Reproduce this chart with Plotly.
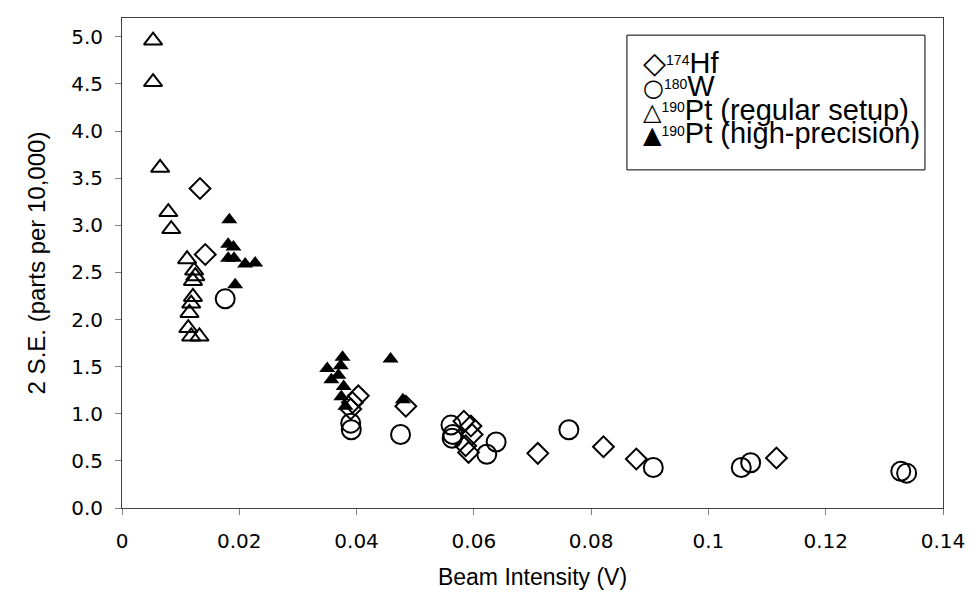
import plotly.graph_objects as go

# Hf-174 (open diamonds)
hf_x = [0.0133, 0.0142, 0.0403, 0.0393, 0.0390, 0.0484, 0.0583, 0.0595, 0.0597, 0.0586, 0.0591,
        0.0709, 0.0821, 0.0877, 0.1116]
hf_y = [3.39, 2.69, 1.19, 1.12, 1.05, 1.08, 0.92, 0.87, 0.78, 0.66, 0.59,
        0.58, 0.65, 0.52, 0.53]

# W-180 (open circles)
w_x = [0.0176, 0.0390, 0.0391, 0.0475, 0.0561, 0.0564, 0.0563, 0.0638, 0.0622, 0.0762,
       0.0906, 0.1056, 0.1072, 0.1328, 0.1338]
w_y = [2.22, 0.90, 0.83, 0.78, 0.88, 0.78, 0.74, 0.70, 0.57, 0.83,
       0.43, 0.43, 0.48, 0.39, 0.37]

# Pt-190 regular setup (open triangles)
ptr_x = [0.0053, 0.0053, 0.0065, 0.0079, 0.0084, 0.0111, 0.0123, 0.0125, 0.0121, 0.0121,
         0.0118, 0.0115, 0.0113, 0.0118, 0.0132]
ptr_y = [4.96, 4.52, 3.61, 3.14, 2.96, 2.64, 2.52, 2.46, 2.41, 2.24,
         2.17, 2.07, 1.91, 1.82, 1.82]

# Pt-190 high-precision (filled triangles)
pth_x = [0.0183, 0.0181, 0.0190, 0.0181, 0.0191, 0.0210, 0.0227, 0.0193,
         0.0350, 0.0357, 0.0376, 0.0373, 0.0369, 0.0378, 0.0374, 0.0381, 0.0458, 0.0479]
pth_y = [3.06, 2.80, 2.77, 2.65, 2.65, 2.59, 2.60, 2.37,
         1.48, 1.36, 1.60, 1.51, 1.41, 1.29, 1.18, 1.08, 1.58, 1.15]

x_ticks = [0, 0.02, 0.04, 0.06, 0.08, 0.1, 0.12, 0.14]
x_ticklabels = ["0", "0.02", "0.04", "0.06", "0.08", "0.1", "0.12", "0.14"]
y_ticks = [0, 0.5, 1, 1.5, 2, 2.5, 3, 3.5, 4, 4.5, 5]
y_ticklabels = ["0.0", "0.5", "1.0", "1.5", "2.0", "2.5", "3.0", "3.5", "4.0", "4.5", "5.0"]

legend_symbols = ["◇", "○", "△", "▲"]
legend_sup = ["174", "180", "190", "190"]
legend_names = ["Hf", "W", "Pt (regular setup)", "Pt (high-precision)"]

fig = go.Figure()
fig.add_trace(go.Scatter(x=hf_x, y=hf_y, mode="markers", name="174Hf", showlegend=False,
                         marker=dict(symbol="diamond-open", size=16, color="black",
                                     line=dict(width=2, color="black"))))
fig.add_trace(go.Scatter(x=w_x, y=w_y, mode="markers", name="180W", showlegend=False,
                         marker=dict(symbol="circle-open", size=19, color="black",
                                     line=dict(width=2, color="black"))))
fig.add_trace(go.Scatter(x=ptr_x, y=ptr_y, mode="markers", name="190Pt (regular setup)", showlegend=False,
                         marker=dict(symbol="triangle-up-open", size=16, color="black",
                                     line=dict(width=2, color="black"))))
fig.add_trace(go.Scatter(x=pth_x, y=pth_y, mode="markers", name="190Pt (high-precision)", showlegend=False,
                         marker=dict(symbol="triangle-up", size=14, color="black",
                                     line=dict(width=0))))

# hand-built legend box (tight rows, as in the reference): one text block, 23 px line pitch
fig.add_shape(type="rect", xref="paper", yref="paper", x0=0.615, x1=0.978, y0=0.69, y1=0.965,
              line=dict(color="black", width=1), fillcolor="white", layer="above")
sym_size = [30, 24, 24, 24]
lines = []
for i in range(4):
    lines.append("<span style='font-family:DejaVu Sans;font-size:%dpx'>%s</span>" % (sym_size[i], legend_symbols[i])
                 + "<sup><span style='font-size:14px'>" + legend_sup[i] + "</span></sup>"
                 + "<span style='font-size:29px'>" + legend_names[i] + "</span>")
fig.add_annotation(xref="paper", yref="paper", x=0.632, y=0.838, xanchor="left", yanchor="middle",
                   align="left", text="<br>".join(lines), showarrow=False,
                   font=dict(family="Liberation Sans, Arial, sans-serif", size=18, color="black"))

fig.update_layout(
    width=969, height=593,
    margin=dict(l=114, r=34, t=10, b=93),
    paper_bgcolor="white", plot_bgcolor="white",
    font=dict(family="Liberation Sans, Arial, sans-serif", color="black"),
    showlegend=False,
)
fig.update_xaxes(range=[0, 0.14], tickvals=x_ticks, ticktext=x_ticklabels,
                 ticks="outside", ticklen=6, tickcolor="#808080", ticklabelstandoff=9,
                 showline=True, linecolor="#404040", linewidth=1, mirror=True,
                 showgrid=False, zeroline=False,
                 tickfont=dict(family="DejaVu Sans", size=20),
                 title=dict(text="Beam Intensity (V)", font=dict(size=23), standoff=16))
fig.update_yaxes(range=[0, 5.2], tickvals=y_ticks, ticktext=y_ticklabels,
                 ticks="outside", ticklen=6, tickcolor="#808080", ticklabelstandoff=8,
                 showline=True, linecolor="#404040", linewidth=1, mirror=True,
                 showgrid=False, zeroline=False,
                 tickfont=dict(family="DejaVu Sans", size=20),
                 title=dict(text="2 S.E. (parts per 10,000)", font=dict(size=24), standoff=18))

fig.write_html("out.html")
